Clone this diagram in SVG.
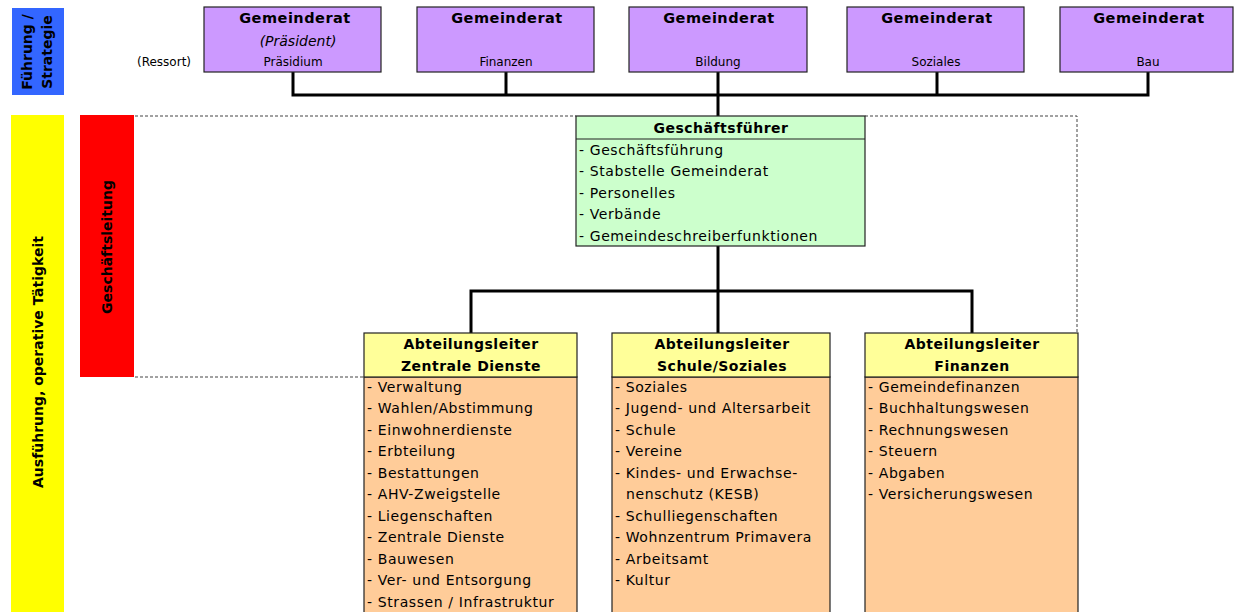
<svg xmlns="http://www.w3.org/2000/svg" width="1234" height="612" viewBox="0 0 1234 612">
<style>
text{font-family:"DejaVu Sans",Verdana,sans-serif;fill:#000}
.gr{fill:#CC99FF;stroke:#222;stroke-width:1.2}
.t{font-size:14.5px;font-weight:bold;text-anchor:middle;letter-spacing:0.5px}
.s{font-size:12px;text-anchor:middle}
.it{font-size:14px;font-style:italic;text-anchor:middle}
.li{font-size:14px;letter-spacing:0.6px}
.hd{font-size:14px;font-weight:bold;text-anchor:middle;letter-spacing:0.5px}
.box{stroke:#222;stroke-width:1.2}
.con{fill:none;stroke:#000;stroke-width:3}
.dash{fill:none;stroke:#444;stroke-width:1;stroke-dasharray:3 2}
.rot{font-size:14px;font-weight:bold;text-anchor:middle}
</style>
<rect x="0" y="0" width="1234" height="612" fill="#fff"/>
<g id="band-fuehrung">
<rect x="12" y="8" width="52" height="87" fill="#3366FF"/>
<text class="rot" font-size="13.5px" transform="translate(32,52) rotate(-90)">Führung /</text>
<text class="rot" font-size="13.5px" transform="translate(52,52) rotate(-90)">Strategie</text>
</g>
<g id="band-ausfuehrung">
<rect x="11" y="115" width="53" height="497" fill="#FFFF00"/>
<text class="rot" transform="translate(43,362) rotate(-90)">Ausführung, operative Tätigkeit</text>
</g>
<g id="band-gl">
<rect x="80" y="115" width="54" height="262" fill="#FF0000"/>
<text class="rot" transform="translate(112,247) rotate(-90)">Geschäftsleitung</text>
</g>
<g id="dashed-frame">
<polyline class="dash" points="135,116 576,116"/>
<polyline class="dash" points="865,116 1077,116 1077,333"/>
<polyline class="dash" points="135,377 364,377"/>
</g>
<g id="connectors">
<polyline class="con" points="293,72 293,95 1148,95 1148,72"/>
<line class="con" x1="506" y1="72" x2="506" y2="95"/>
<line class="con" x1="937" y1="72" x2="937" y2="95"/>
<line class="con" x1="718" y1="72" x2="718" y2="116"/>
<line class="con" x1="718" y1="246" x2="718" y2="333"/>
<polyline class="con" points="471,333 471,291 972,291 972,333"/>
</g>
<text id="ressort" x="137" y="66" font-size="12px">(Ressort)</text>
<g id="gr-praesidium">
<rect class="gr" x="204" y="7" width="177" height="65"/>
<text class="t" x="295" y="23">Gemeinderat</text>
<text class="it" x="298" y="46">(Präsident)</text>
<text class="s" x="293" y="66">Präsidium</text>
</g>
<g id="gr-finanzen">
<rect class="gr" x="417" y="7" width="177" height="65"/>
<text class="t" x="507" y="23">Gemeinderat</text>
<text class="s" x="506" y="66">Finanzen</text>
</g>
<g id="gr-bildung">
<rect class="gr" x="629" y="7" width="178" height="65"/>
<text class="t" x="719" y="23">Gemeinderat</text>
<text class="s" x="718" y="66">Bildung</text>
</g>
<g id="gr-soziales">
<rect class="gr" x="847" y="7" width="177" height="65"/>
<text class="t" x="937" y="23">Gemeinderat</text>
<text class="s" x="936" y="66">Soziales</text>
</g>
<g id="gr-bau">
<rect class="gr" x="1060" y="7" width="173" height="65"/>
<text class="t" x="1149" y="23">Gemeinderat</text>
<text class="s" x="1148" y="66">Bau</text>
</g>
<g id="geschaeftsfuehrer">
<rect class="box" x="576" y="116" width="289" height="130" fill="#CCFFCC"/>
<line class="box" x1="576" y1="139" x2="865" y2="139"/>
<text class="hd" x="721" y="133">Geschäftsführer</text>
<text class="li" x="579" y="155">- Geschäftsführung</text>
<text class="li" x="579" y="176">- Stabstelle Gemeinderat</text>
<text class="li" x="579" y="198">- Personelles</text>
<text class="li" x="579" y="219">- Verbände</text>
<text class="li" x="579" y="241">- Gemeindeschreiberfunktionen</text>
</g>
<g id="al-zentrale-dienste">
<rect class="box" x="364" y="377" width="213" height="240" fill="#FFCC99"/>
<rect class="box" x="364" y="333" width="213" height="44" fill="#FFFF99"/>
<text class="hd" x="471" y="349">Abteilungsleiter</text>
<text class="hd" x="471" y="371">Zentrale Dienste</text>
<text class="li" x="367" y="392">- Verwaltung</text>
<text class="li" x="367" y="413">- Wahlen/Abstimmung</text>
<text class="li" x="367" y="435">- Einwohnerdienste</text>
<text class="li" x="367" y="456">- Erbteilung</text>
<text class="li" x="367" y="478">- Bestattungen</text>
<text class="li" x="367" y="499">- AHV-Zweigstelle</text>
<text class="li" x="367" y="521">- Liegenschaften</text>
<text class="li" x="367" y="542">- Zentrale Dienste</text>
<text class="li" x="367" y="564">- Bauwesen</text>
<text class="li" x="367" y="585">- Ver- und Entsorgung</text>
<text class="li" x="367" y="607">- Strassen / Infrastruktur</text>
</g>
<g id="al-schule-soziales">
<rect class="box" x="612" y="377" width="218" height="240" fill="#FFCC99"/>
<rect class="box" x="612" y="333" width="218" height="44" fill="#FFFF99"/>
<text class="hd" x="722" y="349">Abteilungsleiter</text>
<text class="hd" x="722" y="371">Schule/Soziales</text>
<text class="li" x="615" y="392">- Soziales</text>
<text class="li" x="615" y="413">- Jugend- und Altersarbeit</text>
<text class="li" x="615" y="435">- Schule</text>
<text class="li" x="615" y="456">- Vereine</text>
<text class="li" x="615" y="478">- Kindes- und Erwachse-</text>
<text class="li" x="626" y="499">nenschutz (KESB)</text>
<text class="li" x="615" y="521">- Schulliegenschaften</text>
<text class="li" x="615" y="542">- Wohnzentrum Primavera</text>
<text class="li" x="615" y="564">- Arbeitsamt</text>
<text class="li" x="615" y="585">- Kultur</text>
</g>
<g id="al-finanzen">
<rect class="box" x="865" y="377" width="213" height="240" fill="#FFCC99"/>
<rect class="box" x="865" y="333" width="213" height="44" fill="#FFFF99"/>
<text class="hd" x="972" y="349">Abteilungsleiter</text>
<text class="hd" x="972" y="371">Finanzen</text>
<text class="li" x="868" y="392">- Gemeindefinanzen</text>
<text class="li" x="868" y="413">- Buchhaltungswesen</text>
<text class="li" x="868" y="435">- Rechnungswesen</text>
<text class="li" x="868" y="456">- Steuern</text>
<text class="li" x="868" y="478">- Abgaben</text>
<text class="li" x="868" y="499">- Versicherungswesen</text>
</g>
</svg>
